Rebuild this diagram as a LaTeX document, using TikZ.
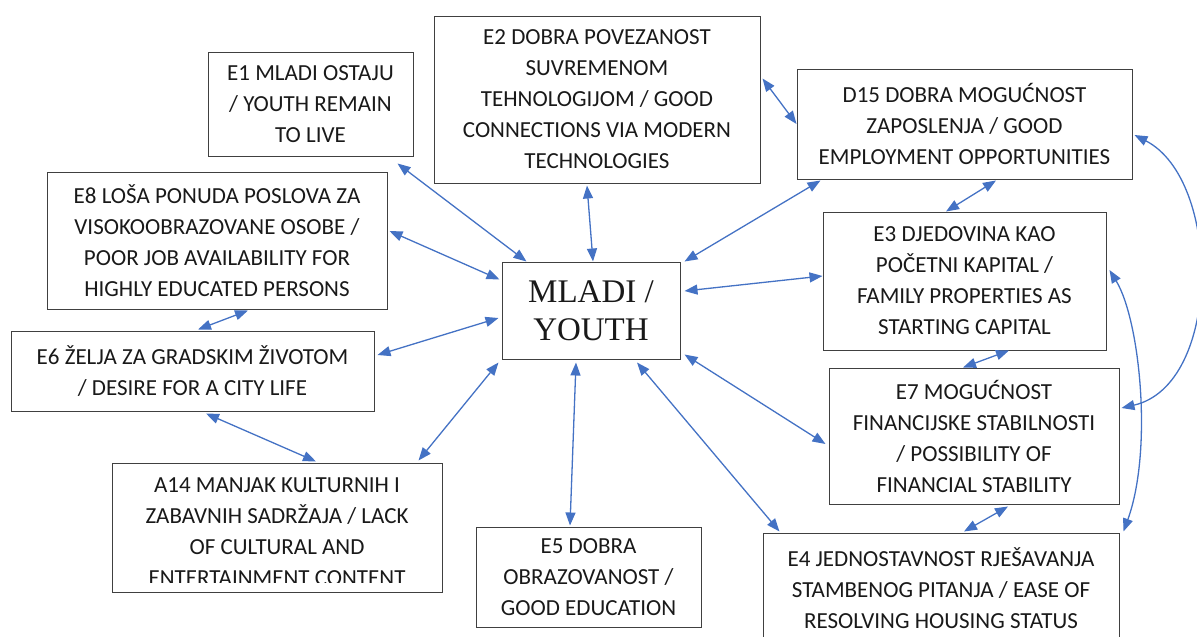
\documentclass[tikz,border=0pt]{standalone}
\usepackage{fontspec}
\setmainfont{Carlito}
\newfontfamily\youthfont{Liberation Serif}
\usetikzlibrary{arrows.meta,calc}
\definecolor{linkblue}{RGB}{68,114,196}
\begin{document}
\begin{tikzpicture}[x=1pt,y=-1pt,
	box/.style={draw=black!75, line width=1pt, inner sep=0pt, align=center, text=black!90,
		font=\fontsize{23}{31}\selectfont},
	link/.style={{Triangle[length=13pt,width=10pt]}-{Triangle[length=13pt,width=10pt]}, linkblue, line width=1.3pt}]
		\useasboundingbox (0,0) rectangle (1197,637);
		
		%factor nodes
		\node (Youth) at (591,310.5) [box, minimum width=178pt, minimum height=97pt,
		font=\youthfont\fontsize{33}{38}\selectfont]{MLADI /\\YOUTH};
		\node (E1) at (310.5,104) [box, minimum width=205pt, minimum height=104pt]{E1 MLADI OSTAJU\\/ YOUTH REMAIN\\TO LIVE};
		\node (E2) at (597,99.5) [box, minimum width=326pt, minimum height=167pt]{E2 DOBRA POVEZANOST\\SUVREMENOM\\TEHNOLOGIJOM / GOOD\\CONNECTIONS VIA MODERN\\TECHNOLOGIES};
		\node (D15) at (964.5,124) [box, minimum width=335pt, minimum height=110pt]{D15 DOBRA MOGUĆNOST\\ZAPOSLENJA / GOOD\\EMPLOYMENT OPPORTUNITIES};
		\node (E8) at (217,240.5) [box, minimum width=340pt, minimum height=137pt]{E8 LOŠA PONUDA POSLOVA ZA\\VISOKOOBRAZOVANE OSOBE /\\POOR JOB AVAILABILITY FOR\\HIGHLY EDUCATED PERSONS};
		\node (E3) at (964.5,281) [box, minimum width=283pt, minimum height=138pt]{E3 DJEDOVINA KAO\\POČETNI KAPITAL /\\FAMILY PROPERTIES AS\\STARTING CAPITAL};
		\node (E6) at (192.5,371) [box, minimum width=363pt, minimum height=80pt]{E6 ŽELJA ZA GRADSKIM ŽIVOTOM\\/ DESIRE FOR A CITY LIFE};
		\node (E7) at (974,436) [box, minimum width=290pt, minimum height=136pt]{E7 MOGUĆNOST\\FINANCIJSKE STABILNOSTI\\/ POSSIBILITY OF\\FINANCIAL STABILITY};
		\node (E5) at (588.5,577) [box, minimum width=225pt, minimum height=100pt]{E5 DOBRA\\OBRAZOVANOST /\\GOOD EDUCATION};
		\node (E4) at (941,588) [box, minimum width=356pt, minimum height=110pt]{E4 JEDNOSTAVNOST RJEŠAVANJA\\STAMBENOG PITANJA / EASE OF\\RESOLVING HOUSING STATUS};
		\node (A14) at (277,527.5) [box, minimum width=330pt, minimum height=129pt]{};
		\begin{scope}
			\clip (A14.north west) rectangle ($(A14.south east)+(0,-10)$);
			\node (A14 text) at (277,532) [box, draw=none]{A14 MANJAK KULTURNIH I\\ZABAVNIH SADRŽAJA / LACK\\OF CULTURAL AND\\ENTERTAINMENT CONTENT};
		\end{scope}
		
		%links
		\draw[link] ($(E1.south east)+(-16,7)$) -- ($(Youth.north west)+(25,0)$);
		\draw[link] ($(E8.east)+(2,-9.5)$) -- ($(Youth.north west)+(-2,18)$);
		\draw[link] ($(E2.south)+(-10,2)$) -- ($(Youth.north)+(2,0)$);
		\draw[link] ($(E2.north east)+(2,63)$) -- (D15.west);
		\draw[link] ($(D15.south west)+(24,1)$) -- ($(Youth.north east)+(4,0)$);
		\draw[link] ($(D15.south)+(31.5,1)$) -- ($(E3.north)+(-18.5,0)$);
		\draw[link] ($(E3.west)+(0,-5)$) -- ($(Youth.east)+(4,-19.5)$);
		\draw[link] ($(D15.east)+(2,11)$) .. controls (1222,180) and (1222,385) .. ($(E7.east)+(2,-28)$);
		\draw[link] ($(E3.east)+(3,-11)$) .. controls (1140,320) and (1153,450) .. ($(E4.north east)+(4,-1)$);
		\draw[link] ($(E3.south)+(44.5,0)$) -- ($(E7.north)+(-11,0)$);
		\draw[link] ($(Youth.south east)+(4,-5)$) -- ($(E7.west)+(-3,8)$);
		\draw[link] ($(Youth.south)+(46,3)$) -- ($(E4.north west)+(17,-1)$);
		\draw[link] ($(E7.south)+(34,2)$) -- ($(E4.north)+(23,-1)$);
		\draw[link] ($(Youth.south)+(-15,3)$) -- ($(E5.north)+(-18.5,-1)$);
		\draw[link] ($(Youth.south west)+(-3,3)$) -- ($(A14.north east)+(-24,-2)$);
		\draw[link] ($(E6.south)+(13.5,2)$) -- ($(A14.north)+(39,-1)$);
		\draw[link] ($(Youth.west)+(-3,7.5)$) -- ($(E6.east)+(3,-16)$);
		\draw[link] ($(E8.south)+(31,1)$) -- ($(E6.north)+(5.5,-1)$);
		
\end{tikzpicture}
\end{document}
